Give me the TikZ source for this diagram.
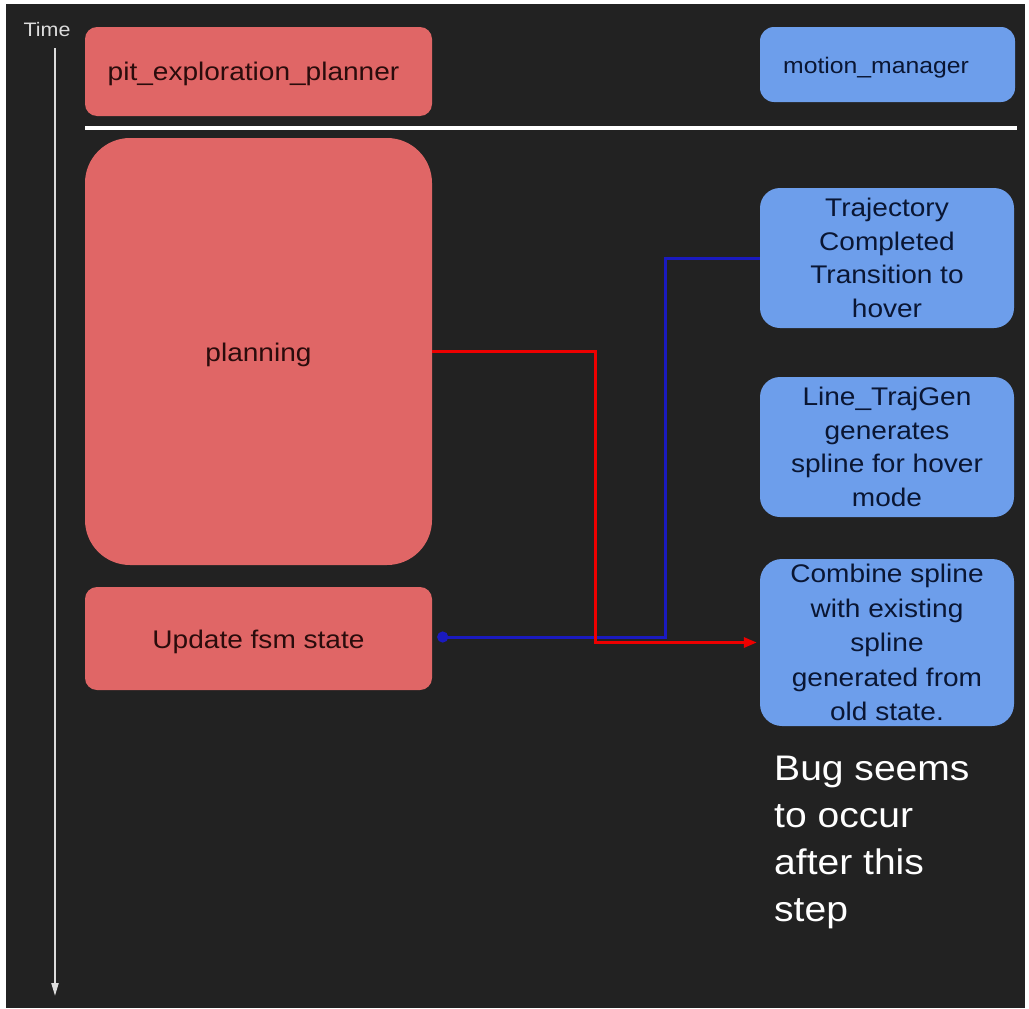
\documentclass[tikz,border=0pt]{standalone}
\usepackage{fontspec}
\setmainfont{Liberation Sans}[FakeStretch=1.1]
\usetikzlibrary{arrows.meta}
\definecolor{bg}{HTML}{222222}
\definecolor{boxred}{HTML}{E06666}
\definecolor{boxblue}{HTML}{6D9EEB}
\definecolor{redtext}{HTML}{2A0C0C}
\definecolor{bluetext}{HTML}{0A1633}
\definecolor{linered}{HTML}{EE0000}
\definecolor{lineblue}{HTML}{1A1AC0}
\definecolor{timegray}{HTML}{DDDDDD}
\newcommand{\lowtext}[2]{\raisebox{-#1}[0pt][0pt]{#2}}
\tikzset{
  redbox/.style={fill=boxred, rounded corners=12pt, inner sep=0pt, text=redtext, align=center,
    font=\fontsize{25.5}{34}\selectfont},
  bluebox/.style={fill=boxblue, rounded corners=20pt, inner sep=0pt, text=bluetext, align=center,
    font=\fontsize{25.5}{33.7}\selectfont},
  redline/.style={draw=linered, line width=3pt},
  blueline/.style={draw=lineblue, line width=3pt},
}
\begin{document}
\begin{tikzpicture}[x=1pt,y=-1pt]
\useasboundingbox (0,0) rectangle (1029,1009);
\fill[white] (0,0) rectangle (1029,1009);
\fill[bg] (6,4) rectangle (1025,1008);
% time axis
\node[anchor=base, text=timegray, font=\fontsize{19.5}{22}\selectfont, inner sep=0pt] (time) at (47,36) {Time};
\coordinate (t0) at (55,48);
\coordinate (t1) at (55,996);
\draw[timegray, line width=2pt, -{Triangle[length=13pt,width=7pt]}] (t0) -- (t1);
% separator
\coordinate (s0) at (85,128);
\coordinate (s1) at (1017,128);
\draw[white, line width=4pt] (s0) -- (s1);
% red boxes
\node[redbox, minimum width=347pt, minimum height=89pt] (pit) at (258.5,71.5) {\lowtext{8.5pt}{pit\_exploration\_planner}\hspace*{10pt}};
\node[redbox, rounded corners=45pt, minimum width=347pt, minimum height=427pt] (planning) at (258.5,351.5) {\lowtext{9.5pt}{planning}};
\node[redbox, minimum width=347pt, minimum height=103pt] (update) at (258.5,638.5) {\lowtext{9.5pt}{Update fsm state}};
% blue boxes
\node[bluebox, rounded corners=14pt, minimum width=255pt, minimum height=75pt, font=\fontsize{22.5}{28}\selectfont] (mm) at (887.5,64.5) {\lowtext{8.5pt}{motion\_manager}\hspace*{23pt}};
\node[bluebox, minimum width=254pt, minimum height=140pt] (traj) at (887,258) {Trajectory\\Completed\\Transition to\\hover};
\node[bluebox, minimum width=254pt, minimum height=140pt] (gen) at (887,447) {Line\_TrajGen\\generates\\spline for hover\\mode};
\node[bluebox, rounded corners=22pt, minimum width=254pt, minimum height=167pt, font=\fontsize{25.5}{34.5}\selectfont] (combine) at (887,642.5) {Combine spline\\with existing\\spline\\generated from\\old state.};
% bug note
\node[anchor=base west, inner sep=0pt, text=white, align=left, font=\fontsize{35.5}{47}\selectfont] (bug) at (774,921) {Bug seems\\to occur\\after this\\step};
% connectors
\coordinate (b1) at (665,637);
\draw[blueline, -{Circle[length=11pt]}, shorten >=5pt] (traj.west) -| (b1) -- (b1 -| update.east);
\coordinate (r1) at (595,351.5);
\draw[redline, -{Triangle[length=13pt,width=10pt]}, shorten >=3pt] (planning.east) -- (r1) |- (combine.west);
\end{tikzpicture}
\end{document}
